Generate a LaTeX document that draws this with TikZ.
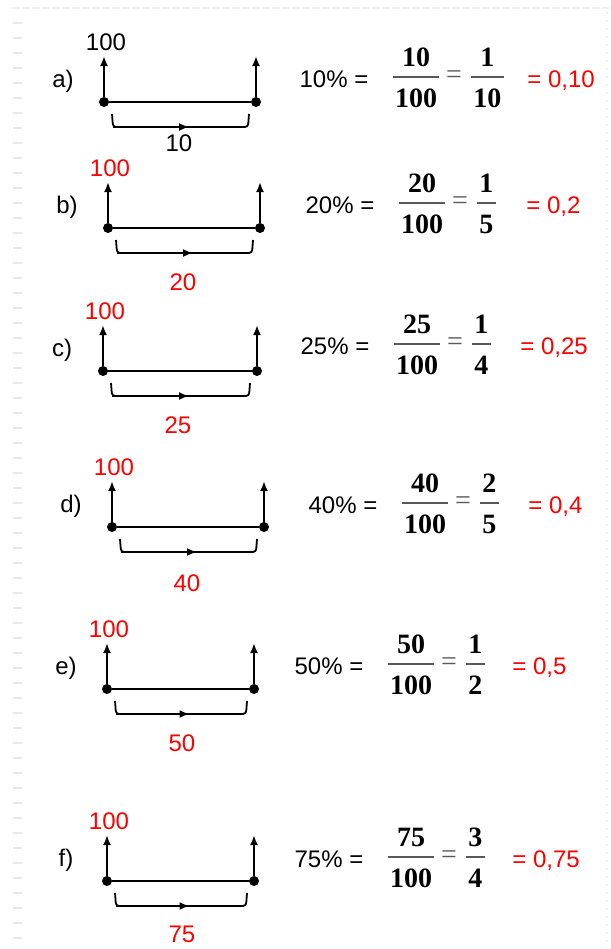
\documentclass[tikz,border=0pt]{standalone}
\usepackage{fontspec}
\setmainfont{Liberation Sans}
\newfontfamily\serifnum{Liberation Serif}
\usetikzlibrary{arrows.meta}

\tikzset{
  dot/.style={circle, fill=black, inner sep=0pt, minimum size=5pt},
  seg/.style={line width=1pt},
  up/.style={seg, -{Latex[length=5pt,width=4pt]}},
  brace/.style={line width=0.9pt, rounded corners=1.5pt},
  txt/.style={font=\fontsize{12}{14}\selectfont, inner sep=0pt},
  fracnum/.style={font=\serifnum\bfseries\fontsize{14}{16}\selectfont, inner sep=0pt},
  fracbar/.style={line width=0.6pt, gray!70!black},
  fraceq/.style={font=\serifnum\fontsize{14}{16}\selectfont, inner sep=0pt, text=gray!70!black},
}

\begin{document}
\begin{tikzpicture}[x=0.5pt, y=-0.5pt]
  \useasboundingbox (0,0) rectangle (611,949);

  % Slide border
  \draw[line width=4.5pt, gray!18, dash pattern=on 1pt off 6.5pt] (17.5,22) -- (17.5,949);
  \draw[line width=0.8pt, gray!12, dash pattern=on 4pt off 1pt] (12,8) -- (611,8);
  \draw[line width=0.8pt, gray!12, dash pattern=on 1pt off 3pt] (607,12) -- (607,949);

  % Rows: letter/x/y/width/colour/label offset/value/fraction x/fraction y/num/den/decimal/decimal x
  \foreach \l/\x/\y/\w/\c/\b/\v/\fx/\fy/\p/\q/\d/\dx in {
      a/104/102/152/black/41/10/416/77/1/10/{0,10}/527,
      b/108/228/152/red/54/20/422/203/1/5/{0,2}/526,
      c/103/371/154/red/54/25/417/344/1/4/{0,25}/520,
      d/112/527/152/red/56/40/425/503/2/5/{0,4}/528,
      e/107/689/147/red/54/50/411/664/1/2/{0,5}/512,
      f/107/881/147/red/53/75/411/857/3/4/{0,75}/512}
  {
    % Segment and arrows
    \node[dot] (L\l) at (\x,\y) {};
    \node[dot] (R\l) at ({\x+\w},\y) {};
    \coordinate (TL\l) at (\x,{\y-46});
    \coordinate (TR\l) at ({\x+\w},{\y-46});
    \draw[seg] (L\l) -- (R\l);
    \draw[up] (L\l) -- (TL\l);
    \draw[up] (R\l) -- (TR\l);

    % Bracket
    \coordinate (BL\l) at ({\x+8},{\y+12});
    \coordinate (CL\l) at ({\x+9},{\y+25});
    \coordinate (CR\l) at ({\x+\w-8},{\y+25});
    \coordinate (BR\l) at ({\x+\w-7},{\y+12});
    \coordinate (M\l) at ({\x+\w/2+9},{\y+25});
    \draw[brace] (BL\l) -- (CL\l) -- (CR\l) -- (BR\l);
    \draw[brace, -{Latex[length=5pt,width=4pt]}] (CL\l) -- (M\l);

    % Labels
    \node[txt] (lt\l) at ({\x-41},{\y-21}) {\l)};
    \node[txt, text=\c] (h\l) at ({\x+2},{\y-60}) {100};
    \node[txt, text=\c] (v\l) at ({\x+75},{\y+\b}) {\v};

    % Formula
    \node[txt, anchor=base] (pc\l) at ({\fx-82},{\fy+10}) {\v\% =};
    \coordinate (bar\l) at (\fx,\fy);
    \node[fracnum, anchor=base, inner xsep=0.6pt] (m\l) at (\fx,{\fy+30}) {100};
    \node[fracnum, anchor=base] (n\l) at (\fx,{\fy-11}) {\v};
    \draw[fracbar] (m\l.west |- bar\l) -- (m\l.east |- bar\l);
    \node[fraceq] (eq\l) at ({\fx+38},{\fy}) {=};
    \node[fracnum, anchor=base west, inner xsep=1pt] (q\l) at ({\fx+55},{\fy+30}) {\q};
    \node[fracnum, anchor=base] (p\l) at ([yshift=20.5pt]q\l.base) {\p};
    \draw[fracbar] (q\l.west |- bar\l) -- (q\l.east |- bar\l);
    \node[txt, anchor=base west, text=red] (dec\l) at (\dx,{\fy+10}) {= \d};
  }
\end{tikzpicture}
\end{document}
